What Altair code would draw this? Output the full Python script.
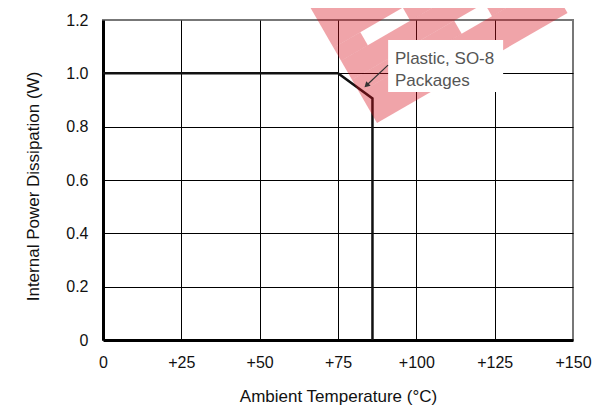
import altair as alt
import pandas as pd

# ---- data ----
temp_c = [0, 75, 86, 86]
power_w = [1.0, 1.0, 0.906, 0.0]

x_ticks = [0, 25, 50, 75, 100, 125, 150]
y_ticks = [0, 0.2, 0.4, 0.6, 0.8, 1.0, 1.2]

note_lines = ["Plastic, SO-8", "Packages"]
note_x = [93.2, 93.2]
note_y = [1.035, 0.952]

box_x = [91.0]
box_x2 = [127.7]
box_y = [0.93]
box_y2 = [1.125]

arrow_x = [90.96, 84.3]
arrow_y = [1.031, 0.957]
head_x = [84.3]
head_y = [0.957]

# watermark block pieces (local rotated frame: a along the tilted baseline, b across it)
wm_a0 = [0, 0, 153, 0, 0, 80, 0]
wm_a1 = [220, 118, 220, 220, 31, 220, 220]
wm_b0 = [0, 35, 35, 50, 72, 72, 87]
wm_b1 = [35, 50, 50, 72, 87, 87, 150]

# ---- tables ----
curve = pd.DataFrame({"t": temp_c, "p": power_w, "i": list(range(len(temp_c)))})
notes = pd.DataFrame({"t": note_x, "p": note_y, "label": note_lines})
box = pd.DataFrame({"t": box_x, "t2": box_x2, "p": box_y, "p2": box_y2})
arrow = pd.DataFrame({"t": arrow_x, "p": arrow_y, "i": [0, 1]})
head = pd.DataFrame({"t": head_x, "p": head_y})

# frame of the watermark: origin at the block's lower-left corner, tilted 30 degrees
X0, Y0 = 0, 0  # placeholders for clarity
PLOT_L, PLOT_W, PLOT_B, PLOT_H = 103.0, 470.0, 340.0, 320.0
ORG = (377.0, 123.0)
U = (0.866, -0.5)
V = (-0.5, -0.866)


def to_data(a, b):
    sx = ORG[0] + a * U[0] + b * V[0]
    sy = ORG[1] + a * U[1] + b * V[1]
    return (sx - PLOT_L) * 150.0 / PLOT_W, (PLOT_B - sy) * 1.2 / PLOT_H


rows = []
for k in range(len(wm_a0)):
    bc = (wm_b0[k] + wm_b1[k]) / 2.0
    w = wm_b1[k] - wm_b0[k]
    for j, a in enumerate([wm_a0[k], wm_a1[k]]):
        t, p = to_data(a, bc)
        rows.append({"piece": k, "i": j, "t": t, "p": p, "w": w})
wm = pd.DataFrame(rows)

FONT = "Liberation Sans"

x_scale = alt.Scale(domain=[0, 150], nice=False, zero=False)
y_scale = alt.Scale(domain=[0, 1.2], nice=False, zero=False)

x_axis = alt.Axis(
    values=x_ticks,
    labelExpr="datum.value == 0 ? '0' : '+' + datum.value",
    title="Ambient Temperature (°C)",
    ticks=False, tickSize=0,
    labelPadding=14, labelFontSize=16, labelColor="#111", labelFlush=False,
    labelOverlap=False,
    titleFontSize=17, titleFontWeight="normal", titleColor="#111",
    titleY=61, titleBaseline="alphabetic",
    domainColor="#000", domainWidth=3,
    gridColor="#000", gridWidth=1,
    gridOpacity={"condition": {"test": "datum.value == 0 || datum.value == 150", "value": 0}, "value": 1},
)
y_axis = alt.Axis(
    values=y_ticks,
    labelExpr="datum.value == 0 ? '0' : format(datum.value, '.1f')",
    title="Internal Power Dissipation (W)",
    ticks=False, tickSize=0,
    labelPadding=15, labelFontSize=16, labelColor="#111", labelFlush=False,
    labelOverlap=False,
    titleFontSize=17, titleFontWeight="normal", titleColor="#111",
    titleAngle=270, titleX=-65, titleY=166, titleAlign="center",
    titleBaseline="alphabetic",
    domainColor="#000", domainWidth=3,
    gridColor="#000", gridWidth=1,
    gridOpacity={"condition": {"test": "datum.value == 0 || datum.value == 1.2", "value": 0}, "value": 1},
)

line_layer = alt.Chart(curve).mark_line(color="#111", strokeWidth=2.5, strokeJoin="miter").encode(
    x=alt.X("t:Q", scale=x_scale, axis=x_axis),
    y=alt.Y("p:Q", scale=y_scale, axis=y_axis),
    order="i:Q",
)

wm_layer = alt.Chart(wm).mark_line(color="#d8101e", opacity=0.38, strokeCap="butt").encode(
    x="t:Q", y="p:Q", order="i:Q", detail="piece:N",
    size=alt.Size("w:Q", scale=None, legend=None),
)

box_layer = alt.Chart(box).mark_rect(color="white").encode(
    x="t:Q", x2="t2:Q", y="p:Q", y2="p2:Q",
)

note_layer = alt.Chart(notes).mark_text(
    align="left", baseline="alphabetic", fontSize=17, font=FONT, color="#555"
).encode(x="t:Q", y="p:Q", text="label:N")

arrow_layer = alt.Chart(arrow).mark_line(color="#333", strokeWidth=1.2).encode(
    x="t:Q", y="p:Q", order="i:Q"
)
head_layer = alt.Chart(head).mark_point(
    shape="triangle", angle=226, size=40, filled=True, color="#333", opacity=1
).encode(x="t:Q", y="p:Q")

chart = alt.layer(
    line_layer, wm_layer, box_layer, note_layer, arrow_layer, head_layer
).properties(
    width=470, height=320,
    autosize=alt.AutoSizeParams(type="none"),
    padding={"left": 95, "top": 12, "right": 29, "bottom": 68},
).configure(font=FONT).configure_view(stroke="#777", strokeWidth=2)

chart.save("out.html", embed_options={"renderer": "svg", "actions": False})
